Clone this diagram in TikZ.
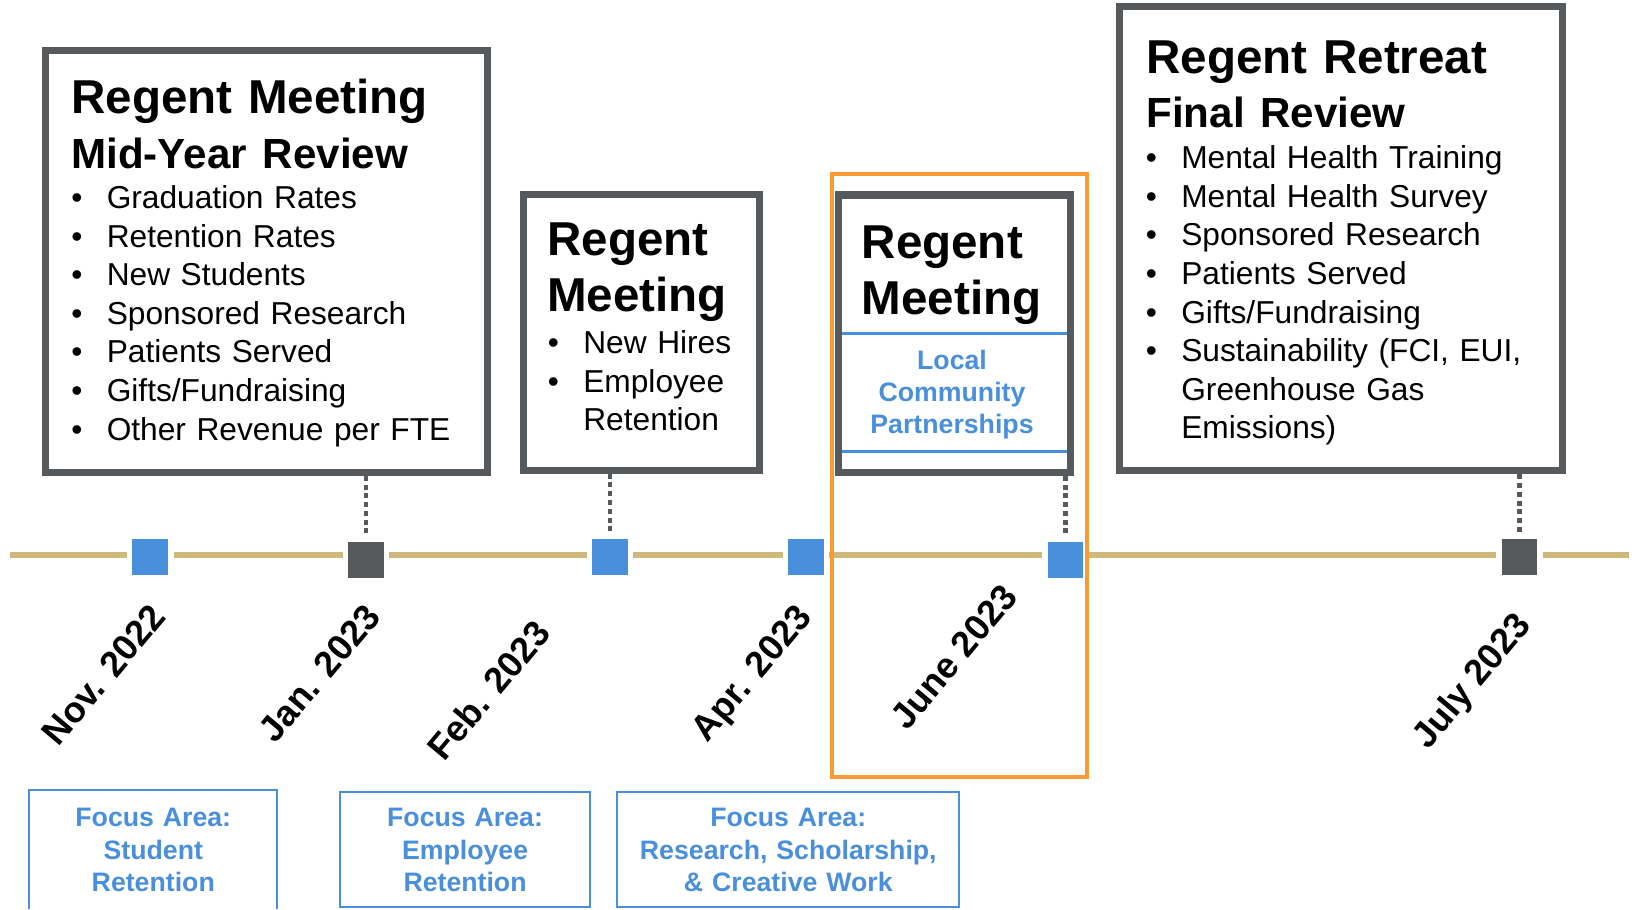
\documentclass[tikz,border=0pt]{standalone}
\usepackage{fontspec}
\setmainfont{Liberation Sans}

\definecolor{cugold}{HTML}{CFB87C}
\definecolor{cugray}{HTML}{565A5C}
\definecolor{cublue}{HTML}{4A8FDB}
\definecolor{cuorange}{HTML}{F89A35}

\newcommand\bul{\makebox[17pt][l]{\textbullet}}
\newcommand\nobul{\makebox[17pt][l]{}}
\newcommand\subhead[1]{{\fontsize{20.2pt}{27pt}\selectfont #1}}

\begin{document}
\begin{tikzpicture}[x=0.5pt,y=-0.5pt,
    panel/.style={draw=cugray,line width=3.4pt,inner sep=0pt},
    milestone/.style={draw=white,line width=2.7pt,minimum size=19.7pt,inner sep=0pt},
    heading/.style={anchor=base west,inner sep=0pt,text width=200pt,align=left,
      font={\fontsize{22.8pt}{27pt}\selectfont\bfseries}},
    bullets/.style={anchor=base west,inner sep=0pt,text width=200pt,align=left,
      font={\fontsize{15.2pt}{18.5pt}\selectfont}},
    datelabel/.style={anchor=base east,rotate=50,inner sep=0pt,
      font={\fontsize{17.3pt}{17.3pt}\selectfont\bfseries}},
    focustext/.style={anchor=base,inner sep=0pt,text width=160pt,align=center,text=cublue,
      font={\fontsize{12.8pt}{15.5pt}\selectfont\bfseries}},
    leader/.style={draw=cugray,line width=2.3pt,dash pattern=on 2.4pt off 1.8pt}]
  \useasboundingbox (0,0) rectangle (1568,872);

  \draw[cugold,line width=2.7pt] (10,532) -- (1562,532);

  \node[milestone,fill=cublue] (nov) at (144,534) {};
  \node[milestone,fill=cugray] (jan) at (351,537) {};
  \node[milestone,fill=cublue] (feb) at (585,534) {};
  \node[milestone,fill=cublue] (apr) at (773,534) {};
  \node[milestone,fill=cublue] (jun) at (1022,537) {};
  \node[milestone,fill=cugray] (jul) at (1457,534) {};

  \draw[cublue,line width=1.2pt] (807,320) -- (1024,320);
  \draw[cublue,line width=1.2pt] (807,433) -- (1024,433);

  \node[panel,minimum width=212.2pt,minimum height=202.5pt] (box1) at (255.7,250.5) {};
  \node[panel,minimum width=113pt,minimum height=132.3pt] (box2) at (615.4,318.6) {};
  \node[panel,minimum width=111.5pt,minimum height=133pt] (box3) at (915.5,320) {};
  \node[panel,minimum width=212.4pt,minimum height=222.6pt] (box4) at (1286.2,228.9) {};

  \draw[leader] (jan |- box1.south) -- (jan);
  \draw[leader] (feb |- box2.south) -- (feb);
  \draw[leader] (jun |- box3.south) -- (jun);
  \draw[leader] (jul |- box4.south) -- (jul);

  \node[heading] (hd1) at (68,109.3) {Regent Meeting\\[-0.8pt]\subhead{Mid-Year Review}};
  \node[bullets] (ls1) at (68,200) {\bul Graduation Rates\\\bul Retention Rates\\\bul New Students\\
    \bul Sponsored Research\\\bul Patients Served\\\bul Gifts/Fundraising\\\bul Other Revenue per FTE};

  \node[heading] (hd2) at (524.5,245) {Regent\\Meeting};
  \node[bullets] (ls2) at (525,339.3) {\bul New Hires\\\bul Employee\\\nobul Retention};

  \node[heading] (hd3) at (826,248) {Regent\\Meeting};
  \node[focustext] (lcp) at (913,354.2) {Local\\Community\\Partnerships};

  \node[heading] (hd4) at (1099,70.3) {Regent Retreat\\[-0.8pt]\subhead{Final Review}};
  \node[bullets] (ls4) at (1098.5,161.8) {\bul Mental Health Training\\\bul Mental Health Survey\\
    \bul Sponsored Research\\\bul Patients Served\\\bul Gifts/Fundraising\\
    \bul Sustainability (FCI, EUI,\\\nobul Greenhouse Gas\\\nobul Emissions)};

  \node[datelabel] (dnov) at (161,592) {Nov. 2022};
  \node[datelabel] (djan) at (367,592) {Jan. 2023};
  \node[datelabel] (dfeb) at (530,608) {Feb. 2023};
  \node[datelabel] (dapr) at (780,592) {Apr. 2023};
  \node[datelabel] (djun) at (978,573) {June 2023};
  \node[datelabel] (djul) at (1470,600) {July 2023};

  \draw[cuorange,line width=2pt] (798,167) rectangle (1042.6,745);

  \draw[cublue,line width=0.9pt] (27.5,872) |- (266,758) -- (266,872);
  \draw[cublue,line width=0.9pt] (326.4,759.2) rectangle (565.5,870.2);
  \draw[cublue,line width=0.9pt] (591.5,759.2) rectangle (920,870.2);

  \node[focustext] (fa1) at (147,793) {Focus Area:\\Student\\Retention};
  \node[focustext] (fa2) at (446,793) {Focus Area:\\Employee\\Retention};
  \node[focustext] (fa3) at (756,793) {Focus Area:\\Research, Scholarship,\\\& Creative Work};
\end{tikzpicture}
\end{document}
